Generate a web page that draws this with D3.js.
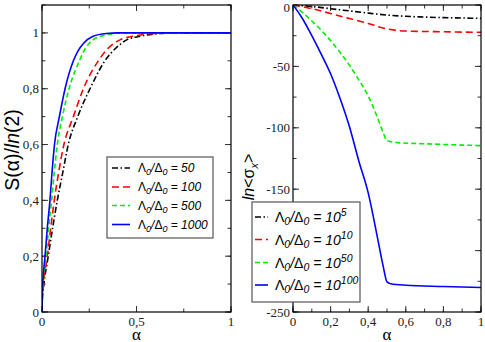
<!DOCTYPE html>
<html><head><meta charset="utf-8">
<script src="https://cdn.jsdelivr.net/npm/d3@7"></script>
<style>body{margin:0;background:#fff}svg{display:block}</style>
</head><body>
<script>
// ---- Data ----
const leftLabels = ["50", "100", "500", "1000"];
const rightLabels = ["5", "10", "50", "100"];
const seriesColors = ["#000000", "#ff0000", "#00ee00", "#0000ff"];
const seriesDash = ["6,2.5,1.5,2.5", "7,4", "5,3", null];

const s50 = [[0,0],[0.002,0.05],[0.01,0.1],[0.033,0.2],[0.056,0.3],[0.081,0.4],[0.11,0.5],[0.139,0.6],[0.189,0.7],[0.254,0.8],[0.333,0.9],[0.39,0.945],[0.448,0.975],[0.52,0.988],[0.59,0.996],[0.7,1],[1,1]];
const s100 = [[0,0],[0.002,0.05],[0.008,0.1],[0.028,0.2],[0.046,0.3],[0.065,0.4],[0.088,0.5],[0.116,0.6],[0.166,0.7],[0.219,0.8],[0.298,0.9],[0.35,0.945],[0.413,0.975],[0.5,0.99],[0.6,0.998],[0.7,1],[1,1]];
const s500 = [[0,0],[0.0015,0.05],[0.006,0.1],[0.021,0.2],[0.035,0.3],[0.051,0.4],[0.065,0.5],[0.081,0.6],[0.108,0.7],[0.143,0.8],[0.198,0.9],[0.23,0.945],[0.27,0.975],[0.34,0.993],[0.43,1],[1,1]];
const s1000 = [[0,0],[0.001,0.05],[0.004,0.1],[0.016,0.2],[0.028,0.3],[0.042,0.4],[0.053,0.5],[0.066,0.6],[0.092,0.7],[0.122,0.8],[0.166,0.9],[0.19,0.935],[0.219,0.962],[0.27,0.988],[0.34,0.998],[0.4,1],[1,1]];

const r5 = [[0,0],[0.1,-1.2],[0.2,-3],[0.3,-4.8],[0.4,-6.6],[0.5,-8.2],[0.6,-9.2],[0.7,-9.8],[0.8,-10.3],[0.9,-10.6],[1,-10.9]];
const r10 = [[0,0],[0.1,-3],[0.2,-7],[0.3,-11],[0.4,-15],[0.45,-17.5],[0.5,-19.5],[0.55,-20.7],[0.6,-21.2],[0.8,-21.8],[1,-22.3]];
const r50 = [[0,0],[0.05,-6],[0.1,-13],[0.15,-20.5],[0.2,-29],[0.25,-38.5],[0.3,-49],[0.35,-61],[0.4,-74],[0.45,-92],[0.48,-104],[0.5,-110.5],[0.55,-112],[0.7,-113],[0.85,-113.8],[1,-114.5]];
const r100 = [[0,0],[0.05,-11],[0.1,-25],[0.15,-40],[0.2,-56],[0.25,-76],[0.3,-99],[0.35,-127],[0.4,-153],[0.45,-190],[0.48,-213],[0.5,-225.5],[0.52,-227],[0.6,-228.2],[0.8,-229.2],[1,-230]];

const leftSeries = [s50, s100, s500, s1000];
const rightSeries = [r5, r10, r50, r100];

const leftYTicks = [0, 0.2, 0.4, 0.6, 0.8, 1];
const leftXTicks = [0, 0.5, 1];
const rightYTicks = [-250, -200, -150, -100, -50, 0];
const rightXTicks = [0, 0.2, 0.4, 0.6, 0.8, 1];

// ---- Drawing ----
const W = 485, H = 342;
const svg = d3.select("body").append("svg").attr("width", W).attr("height", H);
const fmt = v => String(+v.toFixed(2)).replace(".", ",");

function panel(opts) {
  const x = d3.scaleLinear().domain(opts.xd).range([opts.x0, opts.x1]);
  const y = d3.scaleLinear().domain(opts.yd).range([opts.y1, opts.y0]);
  const g = svg.append("g");
  const tickCol = "#333";
  const drawTicks = (vals, len) => {
    vals.forEach(v => {
      g.append("line").attr("x1", x(v)).attr("x2", x(v)).attr("y1", opts.y1).attr("y2", opts.y1 - len).attr("stroke", tickCol);
      g.append("line").attr("x1", x(v)).attr("x2", x(v)).attr("y1", opts.y0).attr("y2", opts.y0 + len).attr("stroke", tickCol);
    });
  };
  const drawYTicks = (vals, len) => {
    vals.forEach(v => {
      g.append("line").attr("y1", y(v)).attr("y2", y(v)).attr("x1", opts.x0).attr("x2", opts.x0 + len).attr("stroke", tickCol);
      g.append("line").attr("y1", y(v)).attr("y2", y(v)).attr("x1", opts.x1).attr("x2", opts.x1 - len).attr("stroke", tickCol);
    });
  };
  drawTicks(opts.xMinor, 3.5);
  drawTicks(opts.xTicks, 6);
  drawYTicks(opts.yMinor, 3.5);
  drawYTicks(opts.yTicks, 6);

  const clipId = "clip" + opts.id;
  svg.append("clipPath").attr("id", clipId).append("rect")
    .attr("x", opts.x0).attr("y", opts.y0).attr("width", opts.x1 - opts.x0).attr("height", opts.y1 - opts.y0);
  const line = d3.line().x(d => x(d[0])).y(d => y(d[1])).curve(d3.curveMonotoneX);
  opts.series.forEach((s, i) => {
    g.append("path").attr("d", line(s)).attr("fill", "none")
      .attr("stroke", seriesColors[i]).attr("stroke-width", 1.6)
      .attr("stroke-dasharray", seriesDash[i]).attr("clip-path", `url(#${clipId})`);
  });

  g.append("rect").attr("x", opts.x0).attr("y", opts.y0)
    .attr("width", opts.x1 - opts.x0).attr("height", opts.y1 - opts.y0)
    .attr("fill", "none").attr("stroke", "#000").attr("stroke-width", 1.2);

  opts.xTicks.forEach(v => {
    g.append("text").attr("x", x(v)).attr("y", opts.y1 + 13.5).attr("text-anchor", "middle")
      .attr("font-family", "Liberation Serif").attr("font-size", 13).attr("fill", "#222").text(fmt(v));
  });
  opts.yTicks.forEach(v => {
    if (opts.hideY && opts.hideY.includes(v)) return;
    const yy = Math.max(y(v) + 4.5, opts.y0 + 7);
    g.append("text").attr("x", opts.x0 - 3).attr("y", yy).attr("text-anchor", "end")
      .attr("font-family", "Liberation Serif").attr("font-size", 13).attr("fill", "#222").text(fmt(v));
  });
  g.append("text").attr("x", (opts.x0 + opts.x1) / 2).attr("y", 340).attr("text-anchor", "middle")
    .attr("font-family", "Liberation Serif").attr("font-size", 17).text("α");
  return {x, y, g};
}

panel({id: "L", x0: 42, x1: 231, y0: 5, y1: 312, xd: [0, 1], yd: [0, 1.1],
  xTicks: leftXTicks, xMinor: d3.range(0, 1.001, 0.25),
  yTicks: leftYTicks, yMinor: d3.range(0, 1.101, 0.1), series: leftSeries});
panel({id: "R", x0: 293, x1: 481, y0: 5, y1: 312, xd: [0, 1], yd: [-250, 0],
  xTicks: rightXTicks, xMinor: d3.range(0, 1.001, 0.1),
  yTicks: rightYTicks, yMinor: d3.range(-250, 0.1, 25), series: rightSeries, hideY: [-200]});

const yl = svg.append("text").attr("transform", "translate(18.5,150) rotate(-90)")
  .attr("text-anchor", "middle").attr("font-family", "Liberation Sans").attr("font-size", 19.5);
yl.append("tspan").text("S(α)/");
yl.append("tspan").attr("font-style", "italic").text("ln");
yl.append("tspan").text("(2)");

const yr = svg.append("text").attr("transform", "translate(254,177) rotate(-90)")
  .attr("text-anchor", "middle").attr("font-family", "Liberation Sans").attr("font-size", 16);
yr.append("tspan").attr("font-style", "italic").text("ln");
yr.append("tspan").text("<σ");
yr.append("tspan").attr("font-size", 11).attr("dy", 4).attr("font-style", "italic").text("x");
yr.append("tspan").attr("dy", -4).text(">");

function legend(bx, by, bw, bh, rows, lx0, lx1, tx, labels, sup, fs) {
  svg.append("rect").attr("x", bx).attr("y", by).attr("width", bw).attr("height", bh)
    .attr("fill", "#fff").attr("stroke", "#555").attr("stroke-width", 1.2);
  const sfs = fs * 0.75;
  rows.forEach((ry, i) => {
    svg.append("line").attr("x1", lx0).attr("x2", lx1).attr("y1", ry).attr("y2", ry)
      .attr("stroke", seriesColors[i]).attr("stroke-width", 1.6).attr("stroke-dasharray", seriesDash[i]);
    const t = svg.append("text").attr("x", tx).attr("y", ry + fs * 0.37)
      .attr("font-family", "Liberation Sans").attr("font-size", fs).attr("font-style", "italic");
    t.append("tspan").attr("font-style", "normal").text("Λ");
    t.append("tspan").attr("font-size", sfs).attr("dy", 3).text("0");
    t.append("tspan").attr("dy", -3).text("/");
    t.append("tspan").attr("font-style", "normal").text("Δ");
    t.append("tspan").attr("font-size", sfs).attr("dy", 3).text("0");
    if (sup) {
      t.append("tspan").attr("dy", -3).text(" = 10");
      t.append("tspan").attr("font-size", sfs).attr("dy", -6).text(labels[i]);
    } else {
      t.append("tspan").attr("dy", -3).text(" = " + labels[i]);
    }
  });
}
legend(107, 157, 106, 81, [168, 187, 205.5, 224.5], 112, 130, 138, leftLabels, false, 12);
legend(252, 202, 108, 100, [217, 239.5, 262.5, 285], 255, 268, 275, rightLabels, true, 14);
</script>
</body></html>
